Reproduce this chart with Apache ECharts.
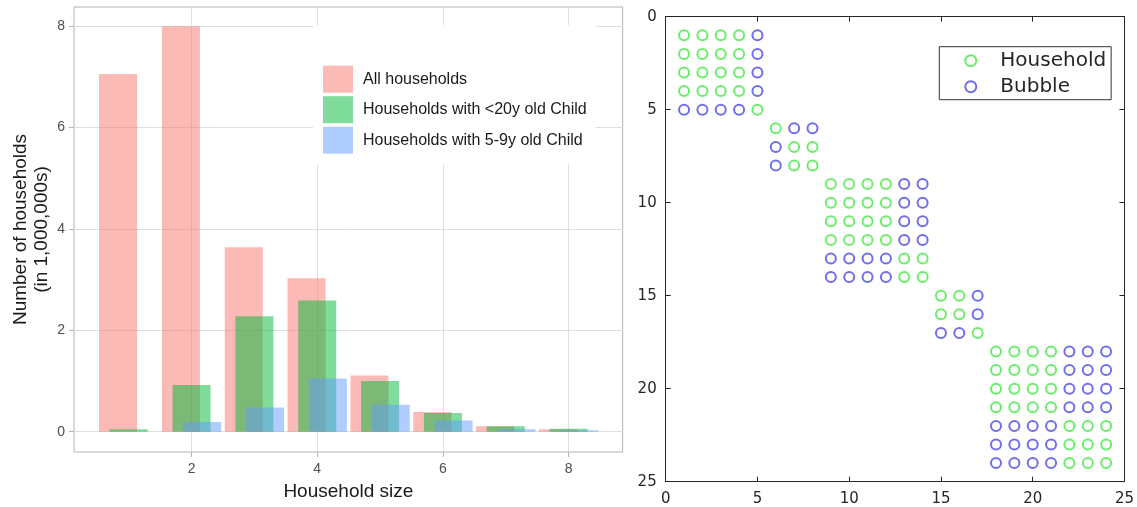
<!DOCTYPE html>
<html><head><meta charset="utf-8">
<script src="https://cdn.jsdelivr.net/npm/echarts@6/dist/echarts.min.js"></script>
<style>html,body{margin:0;padding:0;background:#fff}#c{width:1137px;height:507px}</style>
</head><body><div id="c"></div>
<script>
// ---- left panel: household size distribution (millions of households)
const householdSize = [1, 2, 3, 4, 5, 6, 7, 8];
const allHouseholds = [7.06, 8.00, 3.64, 3.03, 1.11, 0.39, 0.11, 0.05];
const withChildUnder20 = [0.05, 0.92, 2.28, 2.59, 1.00, 0.37, 0.11, 0.06];
const withChild5to9 = [0.00, 0.19, 0.48, 1.05, 0.53, 0.22, 0.05, 0.03];
const barXTicks = [2, 4, 6, 8];
const barYTicks = [0, 2, 4, 6, 8];
const barSeriesNames = ['All households', 'Households with <20y old Child', 'Households with 5-9y old Child'];

// ---- right panel: contact matrix; each row: [row, first column, pattern] (H = household, B = bubble)
const matrixTicks = [0, 5, 10, 15, 20, 25];
const matrixRows = [
  [1, 1, 'HHHHB'], [2, 1, 'HHHHB'], [3, 1, 'HHHHB'], [4, 1, 'HHHHB'], [5, 1, 'BBBBH'],
  [6, 6, 'HBB'], [7, 6, 'BHH'], [8, 6, 'BHH'],
  [9, 9, 'HHHHBB'], [10, 9, 'HHHHBB'], [11, 9, 'HHHHBB'], [12, 9, 'HHHHBB'], [13, 9, 'BBBBHH'], [14, 9, 'BBBBHH'],
  [15, 15, 'HHB'], [16, 15, 'HHB'], [17, 15, 'BBH'],
  [18, 18, 'HHHHBBB'], [19, 18, 'HHHHBBB'], [20, 18, 'HHHHBBB'], [21, 18, 'HHHHBBB'],
  [22, 18, 'BBBBHHH'], [23, 18, 'BBBBHHH'], [24, 18, 'BBBBHHH']
];

const householdPts = [], bubblePts = [];
matrixRows.forEach(([row, start, pat]) => {
  for (let k = 0; k < pat.length; k++) {
    (pat[k] === 'H' ? householdPts : bubblePts).push([start + k, row]);
  }
});
const pairs = vals => householdSize.map((s, i) => [s, vals[i]]);

const gridGrey = '#DEDEDE';
const darkAx = '#262626';
const chart = echarts.init(document.getElementById('c'), null, {renderer: 'canvas'});

const matrixAxisBase = {
  type: 'value', min: 0, max: 25, interval: 5, gridIndex: 1,
  axisLine: {show: true, onZero: false, lineStyle: {color: darkAx, width: 1}},
  axisTick: {show: true, inside: true, length: 5, lineStyle: {color: darkAx}},
  splitLine: {show: false}
};

chart.setOption({
  animation: false,
  textStyle: {fontFamily: 'Liberation Sans'},
  grid: [
    {left: 74, top: 7, width: 548.7, height: 445, show: true, borderColor: '#B3B3B3', borderWidth: 1, backgroundColor: 'transparent', containLabel: false},
    {left: 665.7, top: 16.7, width: 461.6, height: 465, containLabel: false}
  ],
  xAxis: [
    {
      gridIndex: 0, type: 'value', min: 0.13, max: 8.86, splitNumber: 9,
      axisLine: {show: false, onZero: false},
      axisTick: {show: true, customValues: barXTicks, length: 5, lineStyle: {color: '#B3B3B3'}},
      axisLabel: {color: '#4D4D4D', fontSize: 14, margin: 10, showMinLabel: false, showMaxLabel: false,
        fontFamily: 'Liberation Sans', formatter: v => barXTicks.includes(v) ? String(v) : ''},
      splitLine: {show: true, lineStyle: {color: gridGrey, width: 1}},
      name: 'Household size', nameLocation: 'middle', nameGap: 30,
      nameTextStyle: {fontSize: 19, color: '#1A1A1A'}
    },
    Object.assign({}, matrixAxisBase, {position: 'bottom',
      axisLabel: {color: darkAx, fontSize: 15, fontFamily: 'DejaVu Sans', margin: 10}}),
    Object.assign({}, matrixAxisBase, {position: 'top', axisLabel: {show: false}})
  ],
  yAxis: [
    {
      gridIndex: 0, type: 'value', min: -0.4, max: 8.38, splitNumber: 9,
      axisLine: {show: false, onZero: false},
      axisTick: {show: true, customValues: barYTicks, length: 5, lineStyle: {color: '#B3B3B3'}},
      axisLabel: {color: '#4D4D4D', fontSize: 14, margin: 9, showMinLabel: false, showMaxLabel: false,
        fontFamily: 'Liberation Sans', formatter: v => barYTicks.includes(v) ? String(v) : ''},
      splitLine: {show: true, lineStyle: {color: gridGrey, width: 1}},
      name: 'Number of households\n(in 1,000,000s)', nameLocation: 'middle', nameRotate: 90, nameGap: 22,
      nameTextStyle: {fontSize: 19, lineHeight: 21, color: '#1A1A1A', align: 'center'}
    },
    Object.assign({}, matrixAxisBase, {position: 'left', inverse: true,
      axisLabel: {color: darkAx, fontSize: 15, fontFamily: 'DejaVu Sans', margin: 9}}),
    Object.assign({}, matrixAxisBase, {position: 'right', inverse: true, axisLabel: {show: false}})
  ],
  legend: [
    {
      data: barSeriesNames, orient: 'vertical', left: 313, top: 25,
      padding: [40.7, 9, 11, 10], backgroundColor: '#ffffff', borderWidth: 0,
      itemWidth: 30, itemHeight: 27, itemGap: 3.5, icon: 'rect', selectedMode: false,
      textStyle: {fontSize: 16, color: '#1A1A1A', fontFamily: 'Liberation Sans', padding: [0, 0, 0, 5]}
    },
    {
      data: ['Household', 'Bubble'], orient: 'vertical', left: 939.3, top: 46.7,
      padding: [4, 5, 3, 25], backgroundColor: '#ffffff', borderColor: '#333333', borderWidth: 1,
      itemWidth: 11, itemHeight: 11, itemGap: 6, selectedMode: false,
      textStyle: {fontSize: 20, color: darkAx, fontFamily: 'DejaVu Sans', padding: [0, 0, 0, 19]}
    }
  ],
  series: [
    {name: barSeriesNames[0], type: 'bar', xAxisIndex: 0, yAxisIndex: 0, data: pairs(allHouseholds),
      barWidth: 38, barGap: '-72%', itemStyle: {color: 'rgba(248,118,109,0.5)'}},
    {name: barSeriesNames[1], type: 'bar', xAxisIndex: 0, yAxisIndex: 0, data: pairs(withChildUnder20),
      barWidth: 38, barGap: '-72%', itemStyle: {color: 'rgba(0,186,56,0.5)'}},
    {name: barSeriesNames[2], type: 'bar', xAxisIndex: 0, yAxisIndex: 0, data: pairs(withChild5to9),
      barWidth: 38, barGap: '-72%', itemStyle: {color: 'rgba(97,156,255,0.5)'}},
    {name: 'Household', type: 'scatter', xAxisIndex: 1, yAxisIndex: 1, data: householdPts,
      symbol: 'emptyCircle', symbolSize: 10, itemStyle: {color: '#45ea45', borderWidth: 1.5}},
    {name: 'Bubble', type: 'scatter', xAxisIndex: 1, yAxisIndex: 1, data: bubblePts,
      symbol: 'emptyCircle', symbolSize: 10, itemStyle: {color: '#4a4aea', borderWidth: 1.5}}
  ]
});
</script>
</body></html>
